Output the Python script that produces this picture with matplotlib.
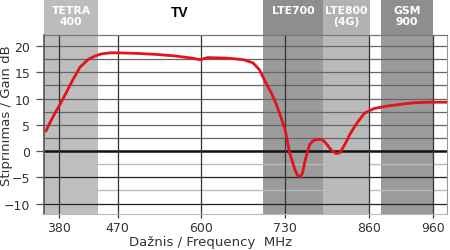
import matplotlib
matplotlib.use("Agg")
import matplotlib.pyplot as plt
import matplotlib.transforms as mtransforms
from matplotlib.patches import Rectangle

# gain curve
freq = [359, 366, 373, 380, 390, 400, 412, 424, 435, 445,
        458, 470, 500, 530, 560, 585, 598, 610, 640, 665,
        680, 690, 700, 708, 716, 723, 730, 737, 745, 749,
        753, 757, 760, 764, 768, 772, 776, 782, 787, 791,
        795, 800, 804, 810, 815, 819, 825, 830, 837, 843,
        853, 868, 890, 916, 931, 955, 980]
gain = [3.8, 5.6, 7.2, 8.7, 11.0, 13.4, 16.0, 17.4, 18.1, 18.5,
        18.7, 18.7, 18.6, 18.4, 18.1, 17.7, 17.4, 17.8, 17.7, 17.4,
        16.8, 15.5, 13.0, 11.2, 9.0, 6.6, 4.0, -0.4, -3.5, -4.6,
        -5.0, -4.2, -2.3, -0.4, 1.2, 1.8, 2.1, 2.2, 2.2, 1.8,
        1.2, 0.4, -0.1, -0.5, -0.3, 0.5, 1.8, 3.1, 4.5, 5.6,
        7.2, 8.1, 8.6, 9.0, 9.2, 9.3, 9.3]

band_names = ["TETRA\n400", "LTE700", "LTE800\n(4G)", "GSM\n900"]
band_lo = [356, 696, 788, 878]
band_hi = [440, 788, 861, 960]
band_fill = ["#bebebe", "#9b9b9b", "#bababa", "#9b9b9b"]
band_head = ["#bcbcbc", "#8e8e8e", "#b2b2b2", "#8e8e8e"]

xticks = [380, 470, 600, 730, 860, 960]
yticks = [-10, -5, 0, 5, 10, 15, 20]

RED = "#e3131b"
TXT = "#333333"

fig = plt.figure(figsize=(4.5, 2.51), dpi=100)
ax = fig.add_axes([44 / 450, 36 / 251, 403 / 450, 179 / 251])
ax.set_xlim(356, 981)
ax.set_ylim(-12, 22.1)

trans = mtransforms.blended_transform_factory(ax.transData, ax.transAxes)
for name, lo, hi, fc, hc in zip(band_names, band_lo, band_hi, band_fill, band_head):
    ax.add_patch(Rectangle((lo, 0), hi - lo, 1, transform=trans,
                           facecolor=fc, edgecolor="none", zorder=0))
    ax.add_patch(Rectangle((lo, 1), hi - lo, 0.2, transform=trans,
                           facecolor=hc, edgecolor="none", zorder=0,
                           clip_on=False))
    ax.text((lo + hi) / 2, 1.168, name, transform=trans, ha="center",
            va="top", color="white", fontsize=7.8, fontweight="bold",
            family="DejaVu Sans", linespacing=1.12)
ax.text(567, 1.17, "TV", transform=trans, ha="center", va="top",
        color="black", fontsize=10, fontweight="bold", family="Liberation Sans")

# horizontal grid
for v in [2.5, 7.5, 12.5, 17.5, 5, 10, 15, 20]:
    ax.axhline(v, color="#666666", lw=0.9, zorder=1)
for v in [-2.5, -7.5]:
    ax.axhline(v, color="#bbbbbb", lw=1.0, zorder=1)
for v in [-5, -10]:
    ax.axhline(v, color="#222222", lw=0.9, zorder=1)
ax.axhline(0, color="#111111", lw=1.8, zorder=1)
for v in xticks:
    ax.axvline(v, color="#333333", lw=0.9, zorder=1)

ax.plot(freq, gain, color=RED, lw=2, zorder=3, solid_capstyle="round")

ax.set_xticks(xticks)
ax.set_yticks(yticks)
ax.tick_params(axis="y", length=6, width=0.9, color="#555555", pad=4,
               labelsize=9, labelcolor=TXT)
ax.tick_params(axis="x", length=3, width=0.9, color="#333333", pad=2,
               labelsize=9, labelcolor=TXT)
ax.spines["left"].set_color("#555555")
ax.spines["left"].set_linewidth(1.2)
ax.spines["top"].set_color("#777777")
ax.spines["top"].set_linewidth(0.9)
ax.spines["right"].set_color("#999999")
ax.spines["right"].set_linewidth(0.8)
ax.spines["bottom"].set_color("#bbbbbb")
ax.spines["bottom"].set_linewidth(0.8)

ax.set_xlabel("Dažnis / Frequency  MHz", fontsize=9.5, color=TXT)
ax.xaxis.set_label_coords(0.414, -0.115)
ax.set_ylabel("Stiprinimas / Gain dB", fontsize=9.5, color=TXT)
ax.yaxis.set_label_coords(-0.077, 0.555)

fig.savefig("out.png", dpi=100, facecolor="white")
